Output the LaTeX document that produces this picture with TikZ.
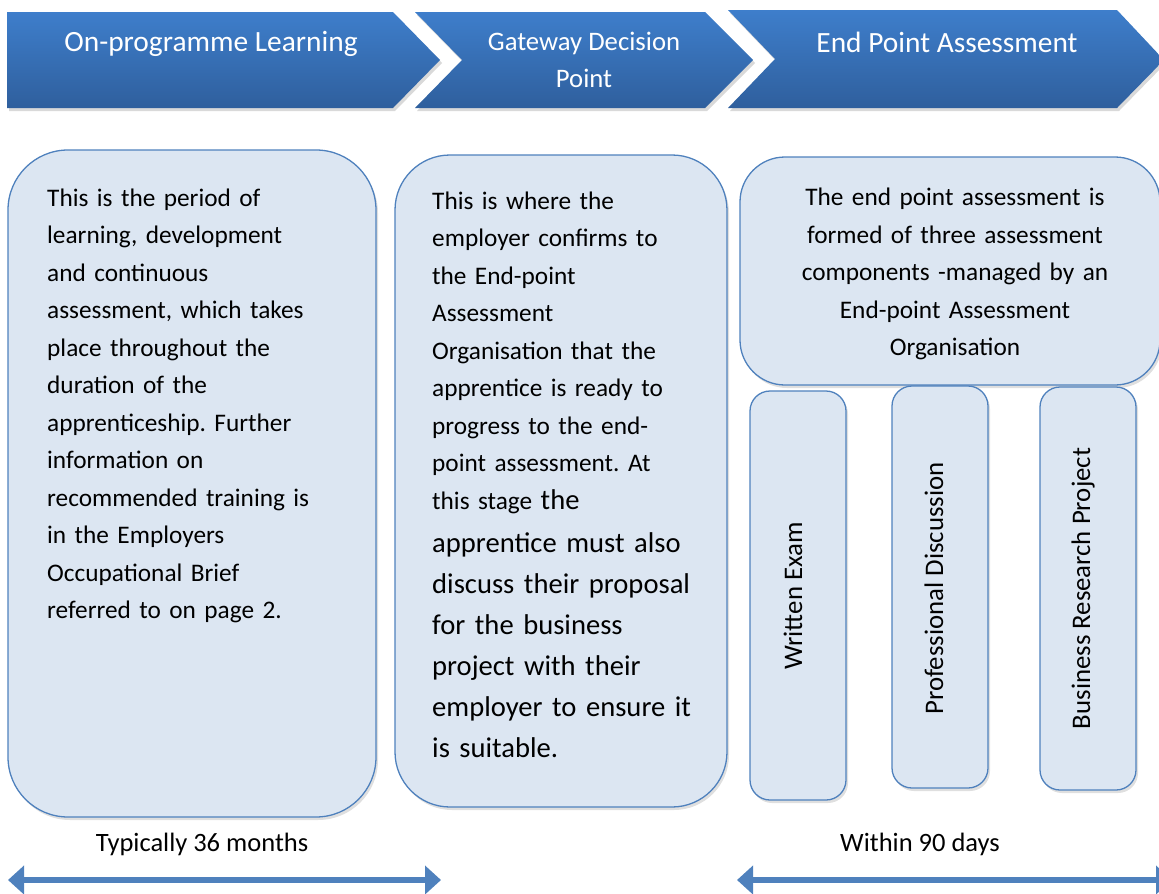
\documentclass[tikz,border=0pt]{standalone}
\usepackage{fontspec}
\setmainfont{Carlito}
\frenchspacing
\usetikzlibrary{arrows.meta,shadows,positioning}

\definecolor{chevtop}{HTML}{3E7ECB}
\definecolor{chevbot}{HTML}{2F5F9D}
\definecolor{boxfill}{HTML}{DCE6F2}
\definecolor{boxline}{HTML}{4F81BD}

\tikzset{
  chev/.style={draw=none, top color=chevtop, bottom color=chevbot,
    drop shadow={opacity=0.3,shadow xshift=2pt,shadow yshift=-3pt}},
  chevtext/.style={text=white, align=center, inner sep=0pt, font=\fontsize{29.4}{36}\selectfont},
  bigbox/.style={draw=boxline, line width=1.3pt, fill=boxfill, inner sep=0pt,
    drop shadow={opacity=0.25,shadow xshift=2pt,shadow yshift=-3pt}},
  smallbox/.style={bigbox, rounded corners=20pt, minimum width=96pt},
  bodytext/.style={inner sep=0pt, align=left, font=\fontsize{25.3}{37.5}\selectfont},
  bigtext/.style={bodytext, font=\fontsize{28.6}{41}\selectfont},
  sidetext/.style={bodytext, rotate=90, font=\fontsize{26.8}{32}\selectfont},
  spanarrow/.style={draw=boxline, line width=6pt,
    {Triangle[width=28pt,length=16pt]}-{Triangle[width=28pt,length=16pt]}},
}

\begin{document}
\begin{tikzpicture}[x=1pt,y=-1pt]
  \useasboundingbox (0,0) rectangle (1159,894);

  % header chevrons
  \path[chev] (7,12) -- (393,12) -- (440,60) -- (393,108) -- (7,108) -- cycle;
  \path[chev] (415,12) -- (705,12) -- (753,60) -- (705,108) -- (415,108) -- (462,60) -- cycle;
  \path[chev] (728,10) -- (1117,10) -- (1164,60) -- (1117,108) -- (728,108) -- (775,59) -- cycle;
  \node[chevtext] (learnlbl) at (211,43.5) {On-programme Learning};
  \node[chevtext, font=\fontsize{26.7}{37}\selectfont] (gatelbl) at (584,59.5) {Gateway Decision\\Point};
  \node[chevtext] (epalbl) at (947,42) {End Point Assessment};

  % main boxes
  \node[bigbox, rounded corners=60pt, minimum width=368pt, minimum height=667pt] (learnbox) at (192,483.5) {};
  \node[bigbox, rounded corners=55pt, minimum width=332pt, minimum height=652pt] (gatebox) at (561,481) {};
  \node[bigbox, rounded corners=45pt, minimum width=420pt, minimum height=228pt] (epabox) at (950,271) {};

  \node[bodytext, anchor=north west, text width=310pt] (learntxt) at (47,188.5)
    {This is the period of\\learning, development\\and continuous\\assessment, which takes\\place throughout the\\duration of the\\apprenticeship. Further\\information on\\recommended training is\\in the Employers\\Occupational Brief\\referred to on page 2.};
  \node[bodytext, anchor=north west, text width=310pt] (gatetxt) at (432,191.5)
    {This is where the\\employer confirms to\\the End-point\\Assessment\\Organisation that the\\apprentice is ready to\\progress to the end-\\point assessment. At\\this stage {\fontsize{28.6}{41}\selectfont the}};
  \node[bigtext, anchor=north west, text width=310pt] (gatetxt2) at (432,532)
    {apprentice must also\\discuss their proposal\\for the business\\project with their\\employer to ensure it\\is suitable.};
  \node[bodytext, align=center, text width=380pt] (epatxt) at (955,274)
    {The end point assessment is\\formed of three assessment\\components -managed by an\\End-point Assessment\\Organisation};

  % assessment components
  \node[smallbox, minimum height=409pt] (exam) at (798,595.5) {};
  \node[smallbox, minimum height=402pt] (discuss) at (940,587) {};
  \node[smallbox, minimum height=403pt] (project) at (1088,588.5) {};
  \node[sidetext] (examtxt) at (793,596) {Written Exam};
  \node[sidetext] (discusstxt) at (934,588.5) {Professional Discussion};
  \node[sidetext] (projecttxt) at (1083,588.5) {Business Research Project};

  % durations
  \node[bodytext, font=\fontsize{26.5}{32}\selectfont] (learntime) at (202,844) {Typically 36 months};
  \node[bodytext, font=\fontsize{26.5}{32}\selectfont] (epatime) at (920,844) {Within 90 days};
  \coordinate (la) at (8,880);
  \coordinate (lb) at (441,880);
  \coordinate (ra) at (737,880);
  \coordinate (rb) at (1172,880);
  \draw[spanarrow] (la) -- (lb);
  \draw[spanarrow] (ra) -- (rb);
\end{tikzpicture}
\end{document}
